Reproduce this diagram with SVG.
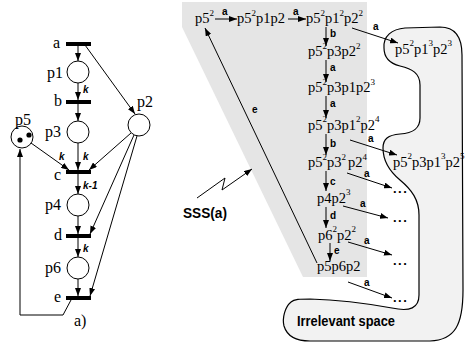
<svg xmlns="http://www.w3.org/2000/svg" width="465" height="343" viewBox="0 0 465 343">
<style>
.st{font-family:"Liberation Serif",serif;font-size:14.5px;fill:#000}
.sp{font-size:9px}
.lb{font-family:"Liberation Sans",Arial,sans-serif;font-size:10px;font-weight:bold;fill:#000}
.dt{font-family:"Liberation Sans",Arial,sans-serif;font-size:13px;font-weight:bold;fill:#000;letter-spacing:1.5px}
.k{font-family:"Liberation Sans",Arial,sans-serif;font-size:10px;font-weight:bold;font-style:italic;fill:#000}
.nm{font-family:"Liberation Serif",serif;font-size:16px;fill:#000}
.ar{fill:none;stroke:#000;stroke-width:1;marker-end:url(#ah)}
.pl{fill:#fff;stroke:#000;stroke-width:1}
.tr{fill:#000}
.big{font-family:"Liberation Sans",Arial,sans-serif;font-weight:bold;fill:#000}
</style>
<defs>
<marker id="ah" markerUnits="userSpaceOnUse" markerWidth="8" markerHeight="6" refX="8" refY="3" orient="auto">
<path d="M0,0 L8,3 L0,6 z" fill="#000"/>
</marker>
</defs>
<rect width="465" height="343" fill="#fff"/>

<!-- shaded regions -->
<polygon id="sss-region" points="182,2 367,2 367,277 303,277 182,27" fill="#e5e5e5"/>
<path id="irrelevant-region" d="M384,48 C383,36 392,29 405,28 L440,27 C455,27 462,37 462,55 L463,290 C463,325 455,340 430,341 L310,341 C295,341 287,336 284,326 C282,318 285,307 291,302 C294,299 300,299 310,299 C345,300 370,304 392,308 C410,312 419,308 419,295 L419,215 C419,200 412,190 400,180 C388,170 383,160 383,148 C383,139 388,135 400,134 C414,133 420,128 420,118 L420,85 C420,73 412,69 400,66 C388,63 384,56 384,48 Z" fill="#f2f2f2" stroke="#000" stroke-width="1.2"/>

<!-- Petri net places -->
<g id="p1"><circle class="pl" cx="78" cy="72" r="11"/><text class="nm" x="47" y="78">p1</text></g>
<g id="p2"><circle class="pl" cx="139" cy="125" r="11"/><text class="nm" x="137" y="107">p2</text></g>
<g id="p3"><circle class="pl" cx="78" cy="132" r="11"/><text class="nm" x="45" y="137">p3</text></g>
<g id="p4"><circle class="pl" cx="78" cy="205" r="11"/><text class="nm" x="45" y="210">p4</text></g>
<g id="p5"><circle class="pl" cx="22" cy="137" r="11"/><circle cx="20" cy="140" r="2.6"/><circle cx="29" cy="135" r="2.6"/><text class="nm" x="15" y="125">p5</text></g>
<g id="p6"><circle class="pl" cx="78" cy="268" r="11"/><text class="nm" x="45" y="273">p6</text></g>

<!-- transitions -->
<g id="ta"><rect class="tr" x="66" y="42" width="25" height="4"/><text class="nm" x="53" y="48">a</text></g>
<g id="tb"><rect class="tr" x="66" y="100" width="25" height="4"/><text class="nm" x="54" y="106">b</text></g>
<g id="tc"><rect class="tr" x="66" y="170" width="25" height="4"/><text class="nm" x="54" y="180">c</text></g>
<g id="td"><rect class="tr" x="66" y="234" width="25" height="4"/><text class="nm" x="54" y="240">d</text></g>
<g id="te"><rect class="tr" x="66" y="296" width="25" height="4"/><text class="nm" x="54" y="302">e</text></g>
<text class="nm" x="74" y="326">a)</text>

<!-- Petri net arcs -->
<g id="net-arcs">
<line class="ar" x1="78" y1="46" x2="78" y2="61"/>
<line class="ar" x1="78" y1="83" x2="78" y2="100"/>
<line class="ar" x1="78" y1="104" x2="78" y2="121"/>
<line class="ar" x1="78" y1="143" x2="78" y2="170"/>
<line class="ar" x1="78" y1="174" x2="78" y2="194"/>
<line class="ar" x1="78" y1="216" x2="78" y2="234"/>
<line class="ar" x1="78" y1="238" x2="78" y2="257"/>
<line class="ar" x1="78" y1="279" x2="78" y2="296"/>
<line class="ar" x1="85" y1="45" x2="135" y2="114"/>
<line class="ar" x1="31" y1="143" x2="69" y2="170"/>
<line class="ar" x1="131" y1="133" x2="89" y2="170"/>
<line class="ar" x1="134" y1="135" x2="90" y2="234"/>
<line class="ar" x1="137" y1="136" x2="90" y2="296"/>
<polyline class="ar" points="71,300 63,315 20,315 20,149"/>
<text class="k" x="83" y="93">k</text>
<text class="k" x="59" y="160">k</text>
<text class="k" x="83" y="160">k</text>
<text class="k" x="83" y="189">k-1</text>
<text class="k" x="83" y="252">k</text>
</g>

<!-- state space nodes -->
<g id="s0"><text class="st" x="195" y="23">p5<tspan class="sp" x="209.5" y="16">2</tspan></text></g>
<g id="s1"><text class="st" x="237" y="23">p5<tspan class="sp" x="251.5" y="16">2</tspan><tspan x="256" y="23">p1p2</tspan></text></g>
<g id="s2"><text class="st" x="306" y="23">p5<tspan class="sp" x="320.5" y="16">2</tspan><tspan x="325" y="23">p1</tspan><tspan class="sp" x="339.5" y="16">2</tspan><tspan x="344" y="23">p2</tspan><tspan class="sp" x="358.5" y="16">2</tspan></text></g>
<g id="s3"><text class="st" x="308" y="56">p5<tspan class="sp" x="322.5" y="49">2</tspan><tspan x="327" y="56">p3p2</tspan><tspan class="sp" x="356" y="49">2</tspan></text></g>
<g id="s4"><text class="st" x="308" y="92">p5<tspan class="sp" x="322.5" y="85">2</tspan><tspan x="327" y="92">p3p1p2</tspan><tspan class="sp" x="370.5" y="85">3</tspan></text></g>
<g id="s5"><text class="st" x="308" y="130">p5<tspan class="sp" x="322.5" y="122">2</tspan><tspan x="327" y="130">p3p1</tspan><tspan class="sp" x="356" y="122">2</tspan><tspan x="360.5" y="130">p2</tspan><tspan class="sp" x="375" y="122">4</tspan></text></g>
<g id="s6"><text class="st" x="308" y="167">p5<tspan class="sp" x="322.5" y="160">2</tspan><tspan x="327" y="167">p3</tspan><tspan class="sp" x="341.5" y="160">2</tspan><tspan x="348" y="167">p2</tspan><tspan class="sp" x="362.5" y="160">4</tspan></text></g>
<g id="s7"><text class="st" x="317" y="203">p4p2<tspan class="sp" x="346" y="195">3</tspan></text></g>
<g id="s8"><text class="st" x="318" y="240">p6<tspan class="sp" x="332.5" y="232">2</tspan><tspan x="337" y="240">p2</tspan><tspan class="sp" x="351.5" y="232">2</tspan></text></g>
<g id="s9"><text class="st" x="317" y="271">p5p6p2</text></g>
<g id="x1"><text class="st" x="395" y="54">p5<tspan class="sp" x="409.5" y="46">2</tspan><tspan x="414" y="54">p1</tspan><tspan class="sp" x="428.5" y="46">3</tspan><tspan x="433" y="54">p2</tspan><tspan class="sp" x="447.5" y="46">3</tspan></text></g>
<g id="x2"><text class="st" x="393" y="167">p5<tspan class="sp" x="407.5" y="159">2</tspan><tspan x="412" y="167">p3p1</tspan><tspan class="sp" x="441" y="159">3</tspan><tspan x="445.5" y="167">p2</tspan><tspan class="sp" x="460" y="159">5</tspan></text></g>
<g id="d1"><text class="dt" x="393" y="193">...</text></g>
<g id="d2"><text class="dt" x="393" y="222">...</text></g>
<g id="d3"><text class="dt" x="393" y="265">...</text></g>
<g id="d4"><text class="dt" x="393" y="302">...</text></g>

<!-- state space edges -->
<g id="ss-edges">
<line class="ar" x1="215" y1="19" x2="237" y2="19"/><text class="lb" x="222" y="15">a</text>
<line class="ar" x1="288" y1="19" x2="306" y2="19"/><text class="lb" x="293" y="15">a</text>
<line class="ar" x1="326" y1="27" x2="326" y2="46"/><text class="lb" x="330" y="37">b</text>
<line class="ar" x1="326" y1="60" x2="326" y2="82"/><text class="lb" x="330" y="71">a</text>
<line class="ar" x1="326" y1="96" x2="326" y2="118"/><text class="lb" x="330" y="107">a</text>
<line class="ar" x1="326" y1="134" x2="326" y2="155"/><text class="lb" x="330" y="147">b</text>
<line class="ar" x1="326" y1="171" x2="326" y2="191"/><text class="lb" x="330" y="185">c</text>
<line class="ar" x1="326" y1="207" x2="326" y2="228"/><text class="lb" x="330" y="219">d</text>
<line class="ar" x1="330" y1="243" x2="330" y2="261"/><text class="lb" x="334" y="254">e</text>
<line class="ar" x1="352" y1="28" x2="398" y2="43"/><text class="lb" x="373" y="30">a</text>
<line class="ar" x1="350" y1="140" x2="397" y2="155"/><text class="lb" x="368" y="142">a</text>
<line class="ar" x1="347" y1="173" x2="392" y2="188"/><text class="lb" x="364" y="177">a</text>
<line class="ar" x1="343" y1="206" x2="388" y2="218"/><text class="lb" x="360" y="207">a</text>
<line class="ar" x1="348" y1="242" x2="392" y2="255"/><text class="lb" x="364" y="244">a</text>
<line class="ar" x1="348" y1="282" x2="392" y2="298"/><text class="lb" x="364" y="286">a</text>
<line class="ar" x1="317" y1="263" x2="205" y2="28"/><text class="lb" x="252" y="113">e</text>
<polyline class="ar" points="197,198 225,178 222,190 252,169"/>
</g>

<text class="big" x="183" y="218" font-size="14" textLength="44" lengthAdjust="spacingAndGlyphs">SSS(a)</text>
<text class="big" x="297" y="326" font-size="15" textLength="98" lengthAdjust="spacingAndGlyphs">Irrelevant space</text>
</svg>
